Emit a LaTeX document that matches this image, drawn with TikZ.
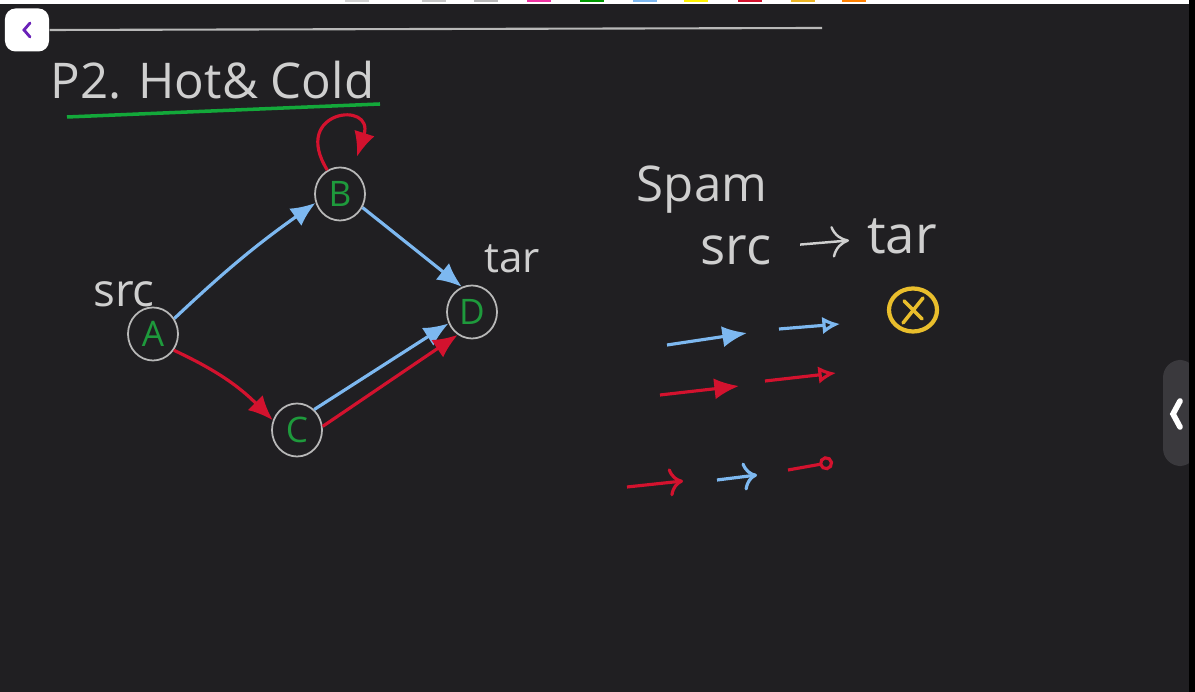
\documentclass[tikz,border=0pt]{standalone}
\usepackage{fontspec}
\setmainfont{Open Sans}
\usepackage{tikz}
\usetikzlibrary{shapes.geometric, arrows.meta, positioning, calc}

\definecolor{board}{HTML}{201F22}
\definecolor{chalkwhite}{HTML}{CFCFCF}
\definecolor{nodegray}{HTML}{B8B8B8}
\definecolor{nodegreen}{HTML}{1E9A3C}
\definecolor{coldblue}{HTML}{7DB8F0}
\definecolor{hotred}{HTML}{D3122E}
\definecolor{lineGreen}{HTML}{13A83A}
\definecolor{signyellow}{HTML}{E9BE2C}
\definecolor{panelgray}{HTML}{3A393D}
\definecolor{backpurple}{HTML}{6A22B8}

\begin{document}
\begin{tikzpicture}[x=0.01cm, y=-0.01cm,
    vertex/.style={ellipse, draw=nodegray, line width=0.5pt, minimum width=0.5cm, minimum height=0.53cm, inner sep=0pt, text=nodegreen, font=\fontsize{10}{10}\selectfont},
    chalk/.style={text=chalkwhite, inner sep=0pt},
    cold/.style={draw=coldblue, line width=0.9pt, -{Latex[length=7pt,width=6pt]}},
    hot/.style={draw=hotred, line width=0.9pt, -{Latex[length=7pt,width=6pt]}},
    coldopen/.style={draw=coldblue, line width=0.9pt, -{Latex[open,length=5pt,width=5pt]}},
    hotopen/.style={draw=hotred, line width=0.9pt, -{Latex[open,length=5pt,width=5pt]}}
]
    % board and window frame
    \fill[board] (0,0) rectangle (1195,692);
    \useasboundingbox (0,0) rectangle (1195,692);
    \fill[white] (0,0) rectangle (1189,4);
    \foreach \x/\c in {345/gray!35, 422/gray!45, 474/gray!55, 527/magenta!80, 580/green!60!black, 633/coldblue, 684/yellow, 738/hotred, 791/signyellow!85!orange, 842/orange}
        \fill[\c] (\x,0) rectangle ++(24,2.5);
    \fill[black] (1189,0) rectangle (1195,692);

    \node[fill=white, rounded corners=3pt, minimum width=0.44cm, minimum height=0.43cm] (back) at (27,30) {};
    \draw[backpurple, line width=0.8pt, line cap=round] ($(back.center)+(3,-7)$) -- ++(-6,7) -- ++(6,7);
    \draw[nodegray, line width=0.6pt] (back.east) -- (822,28);

    \node[fill=panelgray, rounded corners=5pt, minimum width=0.34cm, minimum height=1.06cm] (panel) at (1180,413) {};
    \fill[black] (1189,355) rectangle (1195,470);
    \draw[white, line width=1.6pt, line cap=round] (1180,401) -- (1173,414) -- (1180,427);

    % title
    \node[chalk, anchor=west, font=\fontsize{14}{14}\selectfont] (title) at (50,80) {P2. Hot\& Cold};
    \draw[lineGreen, line width=1pt] (67,117) -- (380,104);

    % graph
    \node[vertex] (A) at (153,334) {A};
    \node[vertex] (B) at (340,194) {B};
    \node[vertex] (C) at (297,430) {C};
    \node[vertex] (D) at (472,312) {D};
    \node[chalk, font=\fontsize{13}{13}\selectfont] (srcA) at (124,294) {src};
    \node[chalk, font=\fontsize{12}{12}\selectfont] (tarD) at (512,259) {tar};

    \draw[cold] (A.36) to[bend left=4] (B.200);
    \draw[hot] (A.-38) to[out=-25, in=135] (C.158);
    \draw[cold] (B.-31) -- (D.112);
    \draw[cold] (C.50) -- (D.206);
    \draw[hot] (C.8) -- (D.238);
    \draw[hot, shorten >=4pt] (B.118) .. controls (290,110) and (375,100) .. (B.62);

    % spam
    \node[chalk, font=\fontsize{14}{14}\selectfont] (spam) at (702,190) {Spam};
    \node[chalk, font=\fontsize{15}{15}\selectfont] (ssrc) at (736,250) {src};
    \node[chalk, font=\fontsize{15}{15}\selectfont] (star) at (902,236) {tar};
    \draw[chalkwhite, line width=0.7pt, -{To[length=5pt,width=9pt]}, shorten <=8pt, shorten >=5pt] (ssrc) -- (star);

    \node[ellipse, draw=signyellow, line width=1.2pt, minimum width=0.48cm, minimum height=0.43cm] (veto) at (913,310) {};
    \draw[signyellow, line width=1pt, line cap=round] ($(veto.center)+(-10,13)$) -- ($(veto.center)+(10,-12)$);
    \draw[signyellow, line width=1pt, line cap=round] ($(veto.center)+(-9,-9)$) -- ($(veto.center)+(9,9)$);

    % legend strokes
    \coordinate (c1s) at (667,345);  \coordinate (c1e) at (747,333);
    \coordinate (c2s) at (779,329);  \coordinate (c2e) at (840,324);
    \coordinate (h1s) at (660,395);  \coordinate (h1e) at (739,386);
    \coordinate (h2s) at (765,381);  \coordinate (h2e) at (836,373);
    \coordinate (h3s) at (627,487);  \coordinate (h3e) at (683,481);
    \coordinate (c3s) at (717,480);  \coordinate (c3e) at (757,475);
    \coordinate (h4s) at (788,470);  \coordinate (h4e) at (833,462);

    \draw[cold] (c1s) -- (c1e);
    \draw[coldopen] (c2s) -- (c2e);
    \draw[hot] (h1s) -- (h1e);
    \draw[hotopen] (h2s) -- (h2e);
    \draw[hotred, line width=0.9pt, -{To[length=4pt,width=8pt]}] (h3s) -- (h3e);
    \draw[coldblue, line width=0.9pt, -{To[length=4pt,width=8pt]}] (c3s) -- (c3e);
    \draw[hotred, line width=0.9pt, -{Circle[open,length=4pt,width=4pt]}] (h4s) -- (h4e);
\end{tikzpicture}
\end{document}
